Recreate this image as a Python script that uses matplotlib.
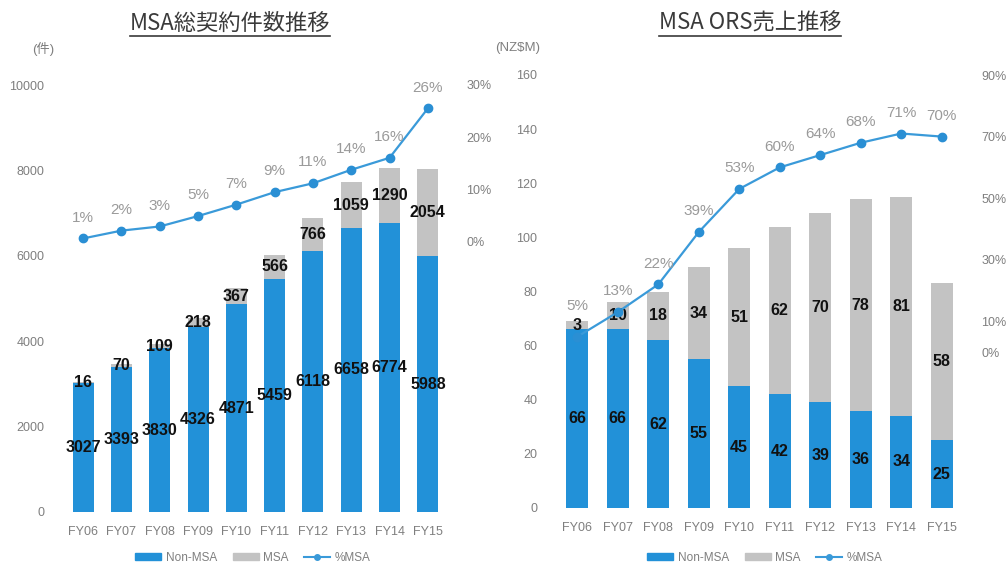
import matplotlib
matplotlib.use("Agg")
import matplotlib.pyplot as plt
from matplotlib.lines import Line2D
from matplotlib.patches import Patch

plt.rcParams['font.family'] = ['Liberation Sans', 'Noto Sans CJK JP', 'DejaVu Sans']

years = ["FY06", "FY07", "FY08", "FY09", "FY10", "FY11", "FY12", "FY13", "FY14", "FY15"]

# Left chart: contract counts
cnt_non_msa = [3027, 3393, 3830, 4326, 4871, 5459, 6118, 6658, 6774, 5988]
cnt_msa = [16, 70, 109, 218, 367, 566, 766, 1059, 1290, 2054]
cnt_pct = [0.5, 2.0, 2.8, 4.8, 7.0, 9.4, 11.1, 13.7, 16.0, 25.5]
cnt_pct_labels = ["1%", "2%", "3%", "5%", "7%", "9%", "11%", "14%", "16%", "26%"]

# Right chart: ORS revenue (NZ$M)
rev_non_msa = [66, 66, 62, 55, 45, 42, 39, 36, 34, 25]
rev_msa = [3, 10, 18, 34, 51, 62, 70, 78, 81, 58]
rev_pct = [5, 13, 22, 39, 53, 60, 64, 68, 71, 70]
rev_pct_labels = ["5%", "13%", "22%", "39%", "53%", "60%", "64%", "68%", "71%", "70%"]

BLUE = "#2291d8"
GRAY = "#c3c3c3"
LINE = "#3a9ad9"
TICK = "#7f7f7f"
NUMFONT = ['Liberation Sans Narrow', 'Liberation Sans']

W, H = 1008, 568
fig = plt.figure(figsize=(W / 100, H / 100), dpi=100)


def box(l, r, t, b):
    return [l / W, 1 - b / H, (r - l) / W, (b - t) / H]


def panel(rect, non_msa, msa, pct, pct_labels, ylim, yticks, ylim2, yticks2, lbl_offs):
    ax = fig.add_axes(rect)
    x = list(range(len(years)))
    ax.bar(x, non_msa, width=0.55, color=BLUE, zorder=2)
    ax.bar(x, msa, width=0.55, bottom=non_msa, color=GRAY, zorder=2)
    for i in x:
        ax.text(i, non_msa[i] / 2, f"{non_msa[i]}", ha="center", va="center",
                fontsize=11.5, fontweight="bold", color="#111111", zorder=5, family=NUMFONT)
        ax.text(i, non_msa[i] + msa[i] / 2, f"{msa[i]}", ha="center", va="center",
                fontsize=11.5, fontweight="bold", color="#111111", zorder=5, family=NUMFONT)
    ax.set_xlim(-0.5, len(years) - 0.5)
    ax.set_ylim(*ylim)
    ax.set_yticks(yticks)
    ax.set_xticks(x)
    ax.set_xticklabels(years)
    for s in ax.spines.values():
        s.set_visible(False)
    ax.tick_params(length=0, colors=TICK, labelsize=9, pad=14)
    ax.tick_params(axis="x", pad=10)

    ax2 = ax.twinx()
    ax2.plot(x, pct, color=LINE, lw=1.6, marker="o", ms=6,
             markerfacecolor="#2a8fd4", markeredgecolor="#2a8fd4", zorder=6)
    ax2.set_ylim(*ylim2)
    ax2.set_yticks(yticks2)
    ax2.set_yticklabels([f"{v}%" for v in yticks2])
    for s in ax2.spines.values():
        s.set_visible(False)
    ax2.tick_params(length=0, colors=TICK, labelsize=9, pad=14)
    for i in x:
        ax2.annotate(pct_labels[i], (i, pct[i]), xytext=(0, lbl_offs[i]),
                     textcoords="offset points", ha="center", va="center",
                     fontsize=11, color="#9a9a9a", zorder=7)
    return ax


axL = panel(box(64, 447, 85, 512), cnt_non_msa, cnt_msa, cnt_pct, cnt_pct_labels,
            (0, 10000), [0, 2000, 4000, 6000, 8000, 10000],
            (-52.1, 30), [0, 10, 20, 30], [15] * 10)
axR = panel(box(557, 962, 75, 508), rev_non_msa, rev_msa, rev_pct, rev_pct_labels,
            (0, 160), [0, 20, 40, 60, 80, 100, 120, 140, 160],
            (-50.6, 90), [0, 10, 30, 50, 70, 90], [22] + [15] * 9)

fig.text(43 / W, 1 - 49 / H, "(件)", ha="center", va="center", fontsize=9.5, color=TICK)
fig.text(518 / W, 1 - 48 / H, "(NZ\\$M)", ha="center", va="center", fontsize=9.5, color=TICK)

titles = [("MSA総契約件数推移", 230), ("MSA ORS売上推移", 750)]
title_texts = []
for t, cx in titles:
    tt = fig.text(cx / W, 1 - 23 / H, t, ha="center", va="center", fontsize=16,
                  color="#3a3a3a", family=['Noto Sans CJK JP', 'DejaVu Sans'])
    title_texts.append(tt)

fig.canvas.draw()
r = fig.canvas.get_renderer()
for tt in title_texts:
    bb = tt.get_window_extent(r)
    y = bb.y0 - 1
    fig.add_artist(Line2D([bb.x0 / W, bb.x1 / W], [y / H, y / H], color="#3a3a3a", lw=1.2))

handles = [Patch(color=BLUE, label="Non-MSA"), Patch(color=GRAY, label="MSA"),
           Line2D([0], [0], color=LINE, marker="o", ms=4, lw=1.5, label="%MSA")]
for cx in (253, 765):
    fig.legend(handles=handles, loc="center", bbox_to_anchor=(cx / W, 1 - 558 / H),
               ncol=3, frameon=False, fontsize=8.5, labelcolor=TICK,
               handlelength=2.2, handleheight=0.5, columnspacing=1.3, handletextpad=0.4)

fig.savefig("out.png", dpi=100)
